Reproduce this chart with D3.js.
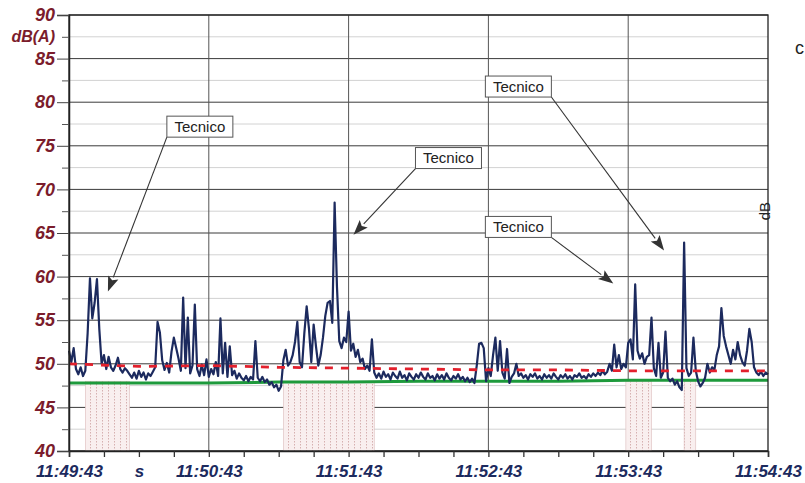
<!DOCTYPE html>
<html>
<head>
<meta charset="utf-8">
<script src="https://cdn.jsdelivr.net/npm/d3@7"></script>
<style>
  html, body { margin: 0; padding: 0; background: #fff; }
  svg { display: block; font-family: "Liberation Sans", Arial, sans-serif; }
</style>
</head>
<body>
<svg id="chart" width="805" height="483"></svg>
<script>
// LAeq samples, one per second from 11:49:43
const laeq = [
  51.5, 50.2, 51.8, 49.4, 48.8, 49.6, 48.6, 49.2, 53.5, 59.8,
  55.2, 57.0, 59.7, 54.0, 50.0, 51.0, 49.4, 50.8, 49.6, 49.2,
  49.8, 50.7, 49.4, 49.0, 49.5, 49.2, 48.8, 48.4, 49.0, 48.3,
  49.2, 48.5, 49.0, 48.2, 48.9, 48.6, 49.1, 49.6, 54.8, 53.6,
  50.4, 49.3, 50.1, 49.0, 51.4, 53.0, 51.8, 50.6, 49.2, 57.6,
  49.5, 55.3, 48.9, 49.8, 56.8, 49.4, 48.6, 49.9, 48.7, 50.5,
  48.5, 49.4, 48.8, 50.2, 48.6, 55.2, 48.9, 52.4, 48.5, 52.0,
  48.7, 49.2, 48.3, 48.9, 48.4, 48.1, 48.6, 48.0, 48.5, 48.2,
  52.6, 48.4, 48.0, 48.5, 47.9, 48.2, 47.6, 47.9, 47.3, 47.6,
  46.9, 47.4, 50.4, 51.6, 49.8, 50.2, 51.0, 52.5, 54.8, 50.2,
  49.6, 53.5, 56.6, 54.0, 50.2, 54.5, 52.0, 49.8, 51.0, 53.0,
  55.5, 57.0, 57.2, 54.7, 68.5, 58.9, 52.6, 51.8, 53.0, 52.5,
  56.0, 51.5, 52.3, 50.8, 51.6, 50.2, 50.6, 49.4, 49.8, 49.2,
  52.8, 49.0, 48.4, 48.9, 48.3, 49.1, 48.5, 48.8, 48.2, 49.0,
  48.6, 48.3, 49.1, 48.4, 48.7, 48.1, 48.9, 48.5, 48.2, 48.8,
  48.4, 49.0, 48.5, 48.2, 48.9, 48.4, 48.6, 48.1, 48.8, 48.3,
  48.7, 48.2, 48.9, 48.4, 48.1, 48.6, 48.3, 48.8, 48.2, 48.5,
  48.0, 48.4, 47.9, 48.3, 47.8, 49.8, 52.3, 52.4, 51.8, 48.0,
  49.5, 48.6, 51.0, 53.0, 49.2, 52.6, 49.0, 48.3, 51.7, 47.8,
  48.5, 48.9, 50.0, 48.6, 48.9, 48.4, 48.7, 48.2, 48.8, 48.5,
  48.9, 48.3, 48.6, 48.2, 48.8, 48.4, 48.7, 48.3, 48.9, 48.5,
  48.2, 48.7, 48.4, 48.8, 48.3, 48.6, 48.2, 48.7, 48.5, 48.9,
  48.4, 48.6, 48.3, 48.8, 48.5, 48.9, 48.6, 49.0, 48.7, 49.2,
  48.8, 49.1, 50.0, 49.2, 52.2, 49.6, 51.0, 49.4, 50.0, 49.6,
  52.4, 52.8, 50.5, 59.1, 51.5, 50.6, 51.2, 50.0, 50.8, 51.0,
  55.3, 49.5, 48.6, 52.4, 48.4, 49.0, 53.7, 48.4, 48.0, 48.3,
  47.6, 48.0, 47.3, 47.0, 63.9, 49.5, 48.6, 49.0, 53.0, 49.2,
  48.0, 47.4, 47.8, 48.4, 50.0, 49.0, 49.6, 49.3, 51.0, 52.0,
  56.4, 53.2, 52.0, 51.0, 50.0, 51.6, 50.5, 52.5, 51.0, 50.2,
  49.8, 51.5, 54.0, 52.5, 49.6, 49.0, 48.7, 49.1, 48.6, 49.0,
  48.8
];

// running Leq (red dashed) and background level (green), every 30 s
const refTimes = [0, 30, 60, 90, 120, 150, 180, 210, 240, 270, 300];
const leqRunning = [50.0, 49.7, 49.8, 49.6, 49.5, 49.4, 49.3, 49.3, 49.2, 49.2, 49.2];
const bgLevel = [47.8, 47.8, 47.8, 47.9, 47.9, 48.0, 48.0, 48.0, 48.1, 48.1, 48.1];

// marked "Tecnico" intervals (seconds)
const techStart = [7, 92, 239, 264];
const techEnd = [26, 131, 250, 269];

const yMajor = [40, 45, 50, 55, 60, 65, 70, 75, 80, 85, 90];
const yMinor = [42.5, 47.5, 52.5, 57.5, 62.5, 67.5, 72.5, 77.5, 82.5, 87.5];
const xLabels = ["11:49:43", "11:50:43", "11:51:43", "11:52:43", "11:53:43", "11:54:43"];

// annotation boxes: top-left corner (s, dB), arrow tip (s, dB), arrow leaves from
const noteT = [42, 148.7, 178.7, 178.7];
const noteDb = [78.4, 74.8, 83.0, 66.9];
const tipT = [16.7, 122.1, 255.4, 233.6];
const tipDb = [58.3, 64.8, 63.0, 59.2];
const noteSide = ["left", "left", "right", "right"];

const svg = d3.select("#chart");
const x = d3.scaleLinear().domain([0, 300]).range([69, 768]);
const y = d3.scaleLinear().domain([40, 90]).range([451, 15]);

const red = "#7b1c2c", navy = "#1c2a5e";

// hatch pattern for the marked intervals
const pat = svg.append("defs").append("pattern")
  .attr("id", "hatch").attr("patternUnits", "userSpaceOnUse")
  .attr("width", 6).attr("height", 3);
pat.append("rect").attr("width", 6).attr("height", 3).attr("fill", "#f9efef");
pat.append("rect").attr("width", 1).attr("height", 1.5).attr("fill", "#d6b0b0");

// grid
svg.append("g").selectAll("line").data(yMinor).join("line")
  .attr("x1", x(0)).attr("x2", x(300))
  .attr("y1", d => y(d)).attr("y2", d => y(d))
  .attr("stroke", "#d2d2d2").attr("stroke-width", 1);
svg.append("g").selectAll("line").data(yMajor).join("line")
  .attr("x1", x(0)).attr("x2", x(300))
  .attr("y1", d => y(d)).attr("y2", d => y(d))
  .attr("stroke", "#3a3a3a").attr("stroke-width", 1);
svg.append("g").selectAll("line").data(d3.range(60, 300, 60)).join("line")
  .attr("x1", d => x(d)).attr("x2", d => x(d))
  .attr("y1", y(90)).attr("y2", y(40))
  .attr("stroke", "#555").attr("stroke-width", 1);

// marked intervals
svg.append("g").selectAll("rect").data(techStart).join("rect")
  .attr("x", d => x(d))
  .attr("width", (d, i) => x(techEnd[i]) - x(d))
  .attr("y", y(48))
  .attr("height", y(40) - y(48))
  .attr("fill", "url(#hatch)")
  .attr("stroke", "#dcbcbc").attr("stroke-width", 0.6);

// green background level
svg.append("path")
  .datum(refTimes.map((t, i) => [t, bgLevel[i]]))
  .attr("fill", "none").attr("stroke", "#1e9a3c").attr("stroke-width", 3)
  .attr("d", d3.line().x(d => x(d[0])).y(d => y(d[1])));

// LAeq trace
svg.append("path")
  .datum(laeq)
  .attr("fill", "none").attr("stroke", navy).attr("stroke-width", 2.2)
  .attr("stroke-linejoin", "round")
  .attr("d", d3.line().x((d, i) => x(i)).y(d => y(d)));

// running Leq
svg.append("path")
  .datum(refTimes.map((t, i) => [t, leqRunning[i]]))
  .attr("fill", "none").attr("stroke", "#e3202c").attr("stroke-width", 2.8)
  .attr("stroke-dasharray", "8,8")
  .attr("d", d3.line().x(d => x(d[0])).y(d => y(d[1])));

// frame
svg.append("rect")
  .attr("x", x(0)).attr("y", y(90))
  .attr("width", x(300) - x(0)).attr("height", y(40) - y(90))
  .attr("fill", "none").attr("stroke", "#222").attr("stroke-width", 1.3);

// y axis
const yAxis = svg.append("g").attr("transform", `translate(${x(0)},0)`)
  .call(d3.axisLeft(y).tickValues(yMajor).tickSize(12).tickPadding(2).tickFormat(d3.format("d")));
yAxis.select(".domain").attr("stroke", "#222").attr("stroke-width", 1.5);
yAxis.selectAll(".tick line").attr("stroke", "#444");
yAxis.selectAll("text")
  .attr("fill", red).attr("font-size", 18).attr("font-weight", "bold").attr("font-style", "italic")
  .attr("font-family", "'Liberation Sans', Arial, sans-serif");

const yMin = svg.append("g").attr("transform", `translate(${x(0)},0)`)
  .call(d3.axisLeft(y).tickValues(yMinor).tickSize(7).tickFormat(d => d === 87.5 ? "dB(A)" : ""));
yMin.select(".domain").remove();
yMin.selectAll(".tick line").attr("stroke", "#555");
yMin.selectAll("text")
  .attr("x", -14)
  .attr("fill", red).attr("font-size", 16).attr("font-weight", "bold").attr("font-style", "italic")
  .attr("font-family", "'Liberation Sans', Arial, sans-serif");

// x axis
const xAxis = svg.append("g").attr("transform", `translate(0,${y(40)})`)
  .call(d3.axisBottom(x).tickValues(d3.range(0, 301, 15)).tickSize(6)
    .tickFormat(d => d % 60 === 0 ? xLabels[d / 60] : (d === 30 ? "s" : "")));
xAxis.select(".domain").attr("stroke", "#222").attr("stroke-width", 1.5);
xAxis.selectAll(".tick line").attr("stroke", "#333").attr("stroke-width", 1.3);
xAxis.selectAll("text")
  .attr("y", 14)
  .attr("fill", navy).attr("font-size", 17).attr("font-weight", "bold").attr("font-style", "italic")
  .attr("font-family", "'Liberation Sans', Arial, sans-serif");

// right side labels
svg.append("text")
  .attr("transform", `translate(${x(300) - 3},${y(67.5)}) rotate(-90)`)
  .attr("text-anchor", "middle").attr("dy", "0.35em")
  .attr("font-size", 15).attr("fill", "#222")
  .text("dB");
svg.append("text")
  .attr("x", 795).attr("y", 54)
  .attr("font-size", 18).attr("fill", "#222")
  .text("c");

// annotations
const notes = svg.append("g");
noteT.forEach((t, i) => {
  const bx = x(t), by = y(noteDb[i]);
  const bw = 66, bh = 21;
  const sx = noteSide[i] === "left" ? bx : bx + bw;
  const sy = by + bh;
  const tx = x(tipT[i]), ty = y(tipDb[i]);
  const ang = Math.atan2(ty - sy, tx - sx);
  const len = 15, half = 5.5;
  const baseX = tx - len * Math.cos(ang), baseY = ty - len * Math.sin(ang);
  notes.append("line")
    .attr("x1", sx).attr("y1", sy).attr("x2", baseX).attr("y2", baseY)
    .attr("stroke", "#333").attr("stroke-width", 1.1);
  notes.append("path")
    .attr("d", `M${tx},${ty}L${baseX - half * Math.sin(ang)},${baseY + half * Math.cos(ang)}` +
      `L${baseX + 3 * Math.cos(ang)},${baseY + 3 * Math.sin(ang)}` +
      `L${baseX + half * Math.sin(ang)},${baseY - half * Math.cos(ang)}Z`)
    .attr("fill", "#333");
  notes.append("rect")
    .attr("x", bx).attr("y", by).attr("width", bw).attr("height", bh)
    .attr("fill", "#fff").attr("stroke", "#555").attr("stroke-width", 1);
  notes.append("text")
    .attr("x", bx + bw / 2).attr("y", by + bh / 2).attr("dy", "0.36em")
    .attr("text-anchor", "middle").attr("font-size", 15).attr("fill", "#222")
    .text("Tecnico");
});
</script>
</body>
</html>
